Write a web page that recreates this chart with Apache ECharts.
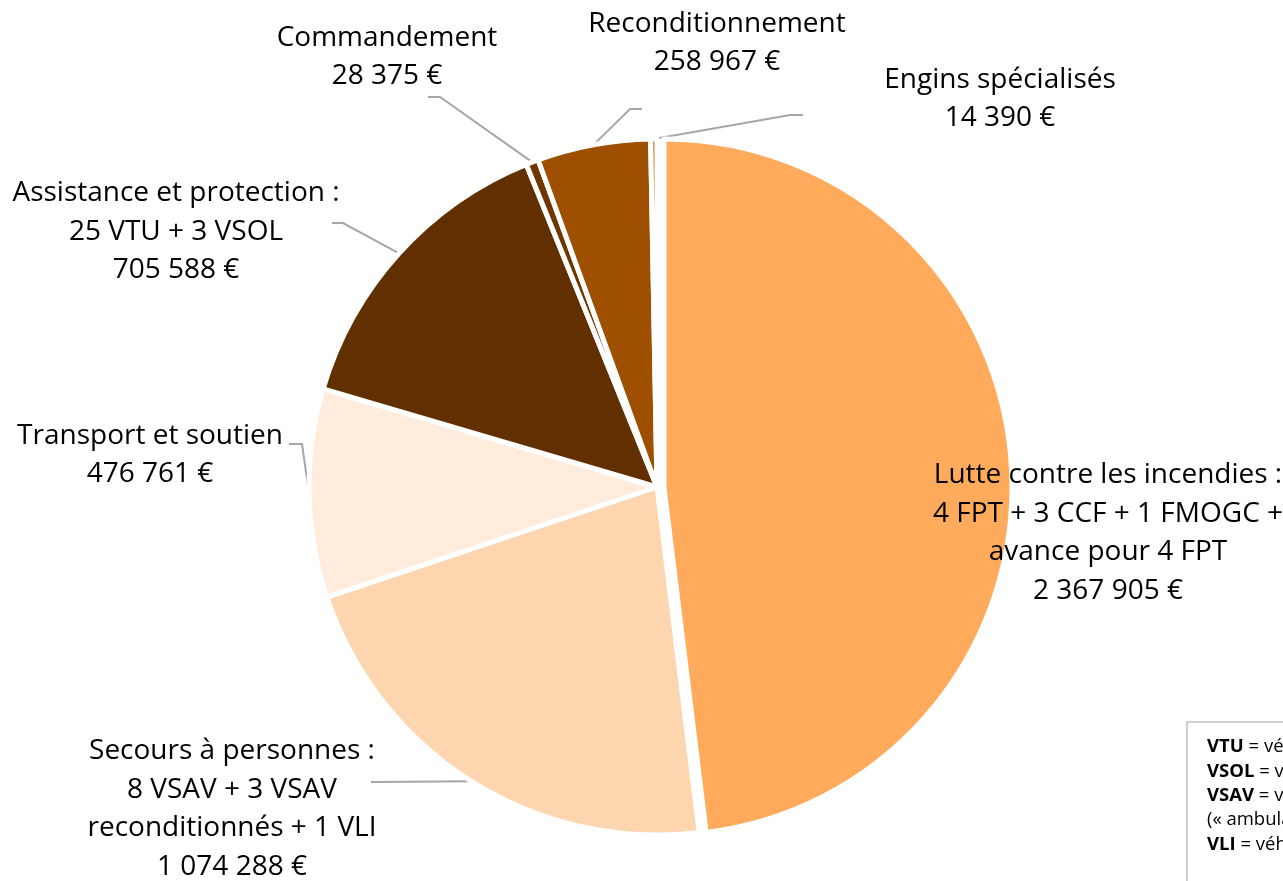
<!DOCTYPE html>
<html>
<head>
<meta charset="utf-8">
<script src="https://cdn.jsdelivr.net/npm/echarts@6/dist/echarts.min.js"></script>
<style>
  html, body { margin: 0; padding: 0; background: #fff; }
  #main { width: 1283px; height: 881px; }
</style>
</head>
<body>
<div id="main"></div>
<script>
// categories and amounts (euros), clockwise from 12 o'clock
var categories = [
  'Lutte contre les incendies :\n4 FPT + 3 CCF + 1 FMOGC +\navance pour 4 FPT',
  'Secours à personnes :\n8 VSAV + 3 VSAV\nreconditionnés + 1 VLI',
  'Transport et soutien',
  'Assistance et protection :\n25 VTU + 3 VSOL',
  'Commandement',
  'Reconditionnement',
  'Engins spécialisés'
];
var amounts = [2367905, 1074288, 476761, 705588, 28375, 258967, 14390];
var colors = ['#FFAB5B', '#FDD6B0', '#FFECDD', '#622F00', '#703600', '#9E5000', '#DD7A22'];

// where each label block sits, and the bend/end of its leader line
var labelPos = [
  [1108, 533], [232, 809], [150, 455], [176, 232], [387, 57], [717, 43], [1000, 99]
];
var lineBend = [
  null, [375, 782], [302, 444], [343, 223], [440, 97], [630, 109], [790, 115]
];
var lineEnd = [
  null, [371, 782], [289, 444], [332, 223], [428, 97], [642, 109], [803, 115]
];

window.onload = function () {
  var chart = echarts.init(document.getElementById('main'));

  function euro(v) {
    return String(v).replace(/\B(?=(\d{3})+(?!\d))/g, ' ') + ' €';
  }

  // the big slice is pulled out a little: it sits in its own pie, shifted right
  function buildData(showBig) {
    var out = [];
    for (var i = 0; i < amounts.length; i++) {
      var visible = (i === 0) === showBig;
      var item = { name: categories[i], value: amounts[i] };
      if (visible) {
        item.itemStyle = { color: colors[i] };
        if (i === 0) item.labelLine = { show: false };
      } else {
        item.itemStyle = { color: 'rgba(0,0,0,0)', borderWidth: 0 };
        item.label = { show: false };
        item.labelLine = { show: false };
      }
      out.push(item);
    }
    return out;
  }

  function pie(center, data) {
    return {
      type: 'pie',
      center: center,
      radius: 348,
      startAngle: 90,
      clockwise: true,
      avoidLabelOverlap: false,
      silent: true,
      itemStyle: { borderColor: '#fff', borderWidth: 5 },
      label: {
        show: true,
        position: 'outside',
        color: '#000',
        fontFamily: 'Open Sans',
        fontSize: 28,
        lineHeight: 38.5,
        align: 'center',
        formatter: function (p) { return p.name + '\n' + euro(p.value); }
      },
      labelLine: {
        show: true,
        lineStyle: { color: '#A6A6A6', width: 2 }
      },
      labelLayout: function (p) {
        var k = p.dataIndex;
        var res = {
          x: labelPos[k][0],
          y: labelPos[k][1],
          align: 'center',
          verticalAlign: 'middle'
        };
        if (lineBend[k] && p.labelLinePoints) {
          res.labelLinePoints = [p.labelLinePoints[0], lineBend[k], lineEnd[k]];
        }
        return res;
      },
      data: data
    };
  }

  var opt = {
    backgroundColor: '#fff',
    animation: false,
    series: [
      pie([657, 487], buildData(false)),
      pie([664, 487], buildData(true))
    ],
    graphic: [{
      type: 'rect',
      shape: { x: 1187, y: 722, width: 130, height: 200 },
      style: { fill: '#fff', stroke: '#BFBFBF', lineWidth: 1.5 },
      z: 10
    }, {
      type: 'text',
      x: 1207,
      y: 735,
      z: 11,
      style: {
        text: '{b|VTU} = véhicule tout usage\n{b|VSOL} = véhicule de soutien\n{b|VSAV} = véhicule de secours\n(« ambulance »)\n{b|VLI} = véhicule léger infirmier',
        fontFamily: 'Open Sans',
        fontSize: 18.5,
        fill: '#000',
        lineHeight: 24.3,
        rich: {
          b: { fontWeight: 'bold', fontFamily: 'Open Sans', fontSize: 18.5, lineHeight: 24.3 }
        }
      }
    }]
  };

  chart.setOption(opt);
};
</script>
</body>
</html>
